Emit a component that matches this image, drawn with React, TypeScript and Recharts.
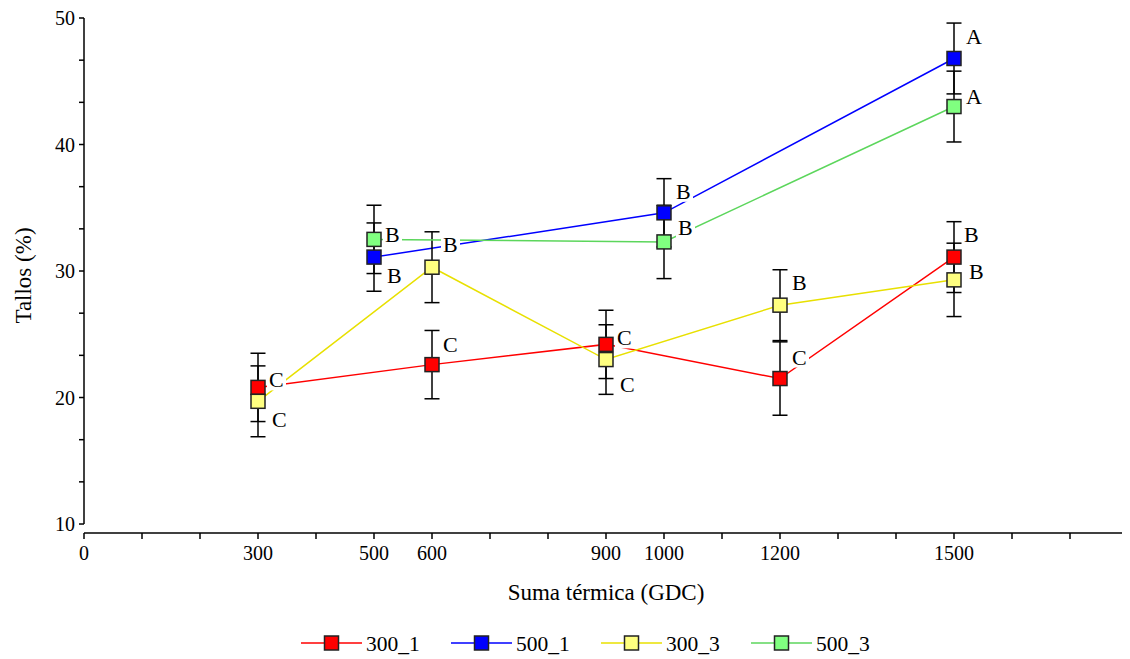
import * as React from 'react';
import {
  LineChart,
  Line,
  XAxis,
  YAxis,
  ErrorBar,
  LabelList,
  Legend,
  ReferenceLine,
} from 'recharts';

// Suma térmica (GDC) at which each treatment was sampled
const xSingle = [300, 600, 900, 1200, 1500];
const xPaired = [500, 1000, 1500];

// Tallos (%) means, standard errors and mean-separation letters
const mean300_1 = [20.8, 22.6, 24.2, 21.5, 31.1];
const err300_1 = [2.7, 2.7, 2.7, 2.9, 2.8];
const letters300_1 = ['C', 'C', 'C', 'C', 'B'];

const mean500_1 = [31.1, 34.6, 46.8];
const err500_1 = [2.7, 2.7, 2.8];
const letters500_1 = ['B', 'B', 'A'];

const mean300_3 = [19.7, 30.3, 23.0, 27.3, 29.3];
const err300_3 = [2.8, 2.8, 2.75, 2.8, 2.9];
const letters300_3 = ['C', 'B', 'C', 'B', 'B'];

const mean500_3 = [32.5, 32.3, 43.0];
const err500_3 = [2.7, 2.9, 2.8];
const letters500_3 = ['B', 'B', 'A'];

// axis ticks
const xTickValues = [0, 100, 200, 300, 400, 500, 600, 700, 800, 900, 1000, 1100, 1200, 1300, 1400, 1500, 1600, 1700, 1800];
const xTickLabels = ['0', '', '', '300', '', '500', '600', '', '', '900', '1000', '', '1200', '', '', '1500', '', '', ''];
const yTickValues = [10, 13.333, 16.667, 20, 23.333, 26.667, 30, 33.333, 36.667, 40, 43.333, 46.667, 50];
const yTickLabels = ['10', '', '', '20', '', '', '30', '', '', '40', '', '', '50'];

// letter placement next to each marker: [dx, dy of baseline]
const pos300_1 = [[11, 0], [11, -13], [11, 1], [12, -14], [10, -15]];
const pos500_1 = [[13, 26], [12, -14], [12, -14]];
const pos300_3 = [[14, 26], [11, -15], [14, 32], [12, -15], [15, -1]];
const pos500_3 = [[11, 3], [14, -7], [12, -3]];

const FONT = '"Liberation Serif", "Times New Roman", serif';

type Point = { x: number; y: number; err: number; letter: string };

const toPoints = (xs: number[], ys: number[], errs: number[], letters: string[]): Point[] =>
  xs.map((x, i) => ({ x, y: ys[i], err: errs[i], letter: letters[i] }));

const series = [
  { name: '300_1', line: '#ff0000', fill: '#ff0000', points: toPoints(xSingle, mean300_1, err300_1, letters300_1), pos: pos300_1 },
  { name: '500_1', line: '#0000ff', fill: '#0000ff', points: toPoints(xPaired, mean500_1, err500_1, letters500_1), pos: pos500_1 },
  { name: '300_3', line: '#e8e000', fill: '#ffff80', points: toPoints(xSingle, mean300_3, err300_3, letters300_3), pos: pos300_3 },
  { name: '500_3', line: '#5cd65c', fill: '#80ff80', points: toPoints(xPaired, mean500_3, err500_3, letters500_3), pos: pos500_3 },
];

const squareDot = (fill: string) => (p: any) => (
  <rect
    key={`dot-${p.index}`}
    x={p.cx - 7}
    y={p.cy - 7}
    width={14}
    height={14}
    fill={fill}
    stroke="#222"
    strokeWidth={1.5}
  />
);

// letter with a white patch behind it, so lines passing under it are cut
const letterLabel = (pos: number[][]) => (props: any) => {
  const { x, y, value, index } = props;
  const [dx, dy] = pos[index] ?? [12, -14];
  const tx = x + dx;
  const ty = y + dy;
  return (
    <g key={`lbl-${index}`}>
      <rect x={tx - 2} y={ty - 16} width={19} height={19} fill="#fff" />
      <text x={tx} y={ty} fontSize={22} fontFamily={FONT} fill="#000">
        {value}
      </text>
    </g>
  );
};

const renderLegend = () => (
  <svg width={1122} height={30} style={{ display: 'block' }}>
    {series.map((s, i) => {
      const x0 = 293 + i * 150;
      return (
        <g key={s.name}>
          <line x1={x0} x2={x0 + 61} y1={15} y2={15} stroke={s.line} strokeWidth={1.5} />
          <rect x={x0 + 23.5} y={8} width={14} height={14} fill={s.fill} stroke="#222" strokeWidth={1.5} />
          <text x={x0 + 65} y={22.5} fontSize={21.5} fontFamily={FONT} fill="#000">
            {s.name}
          </text>
        </g>
      );
    })}
  </svg>
);

export default function App() {
  return (
    <LineChart
      width={1122}
      height={651}
      margin={{ top: 10, right: 2, bottom: 1, left: 0 }}
      style={{ fontFamily: FONT, background: '#fff' }}
    >
      <XAxis
        dataKey="x"
        type="number"
        domain={[0, 1800]}
        ticks={xTickValues}
        interval={0}
        tickFormatter={(_v: number, i: number) => xTickLabels[i]}
        height={95}
        tickSize={6}
        tickMargin={7}
        tick={{ fill: '#000', fontSize: 20 }}
        axisLine={{ stroke: '#000', strokeWidth: 1.5 }}
        tickLine={{ stroke: '#000', strokeWidth: 1.5 }}
        label={{ value: 'Suma térmica (GDC)', position: 'insideBottom', offset: 28, fill: '#000', fontSize: 23 }}
      />
      <YAxis
        type="number"
        domain={[9.29, 50]}
        allowDataOverflow
        ticks={yTickValues}
        interval={0}
        tickFormatter={(_v: number, i: number) => yTickLabels[i]}
        width={76}
        tickSize={5}
        tickMargin={4}
        tick={{ fill: '#000', fontSize: 20 }}
        axisLine={false}
        tickLine={{ stroke: '#000', strokeWidth: 1.5 }}
        label={{
          value: 'Tallos (%)',
          angle: -90,
          position: 'insideLeft',
          offset: 15,
          fill: '#000',
          fontSize: 23,
          style: { textAnchor: 'middle' },
        }}
      />
      <ReferenceLine
        segment={[{ x: 0, y: 10 }, { x: 0, y: 50 }]}
        stroke="#000"
        strokeWidth={1.5}
        ifOverflow="visible"
      />
      <Legend verticalAlign="bottom" content={renderLegend} wrapperStyle={{ left: 0, width: 1122 }} />

      {series.map((s) => (
        <Line
          key={s.name}
          name={s.name}
          data={s.points}
          dataKey="y"
          type="linear"
          stroke={s.line}
          strokeWidth={1.5}
          dot={squareDot(s.fill)}
          activeDot={false}
          isAnimationActive={false}
        >
          <ErrorBar dataKey="err" direction="y" width={7.5} stroke="#000" strokeWidth={1.5} />
        </Line>
      ))}

      {/* letters go on top of every line */}
      {series.map((s) => (
        <Line
          key={`${s.name}-letters`}
          data={s.points}
          dataKey="y"
          stroke="none"
          dot={false}
          activeDot={false}
          legendType="none"
          isAnimationActive={false}
        >
          <LabelList dataKey="letter" content={letterLabel(s.pos)} />
        </Line>
      ))}
    </LineChart>
  );
}
